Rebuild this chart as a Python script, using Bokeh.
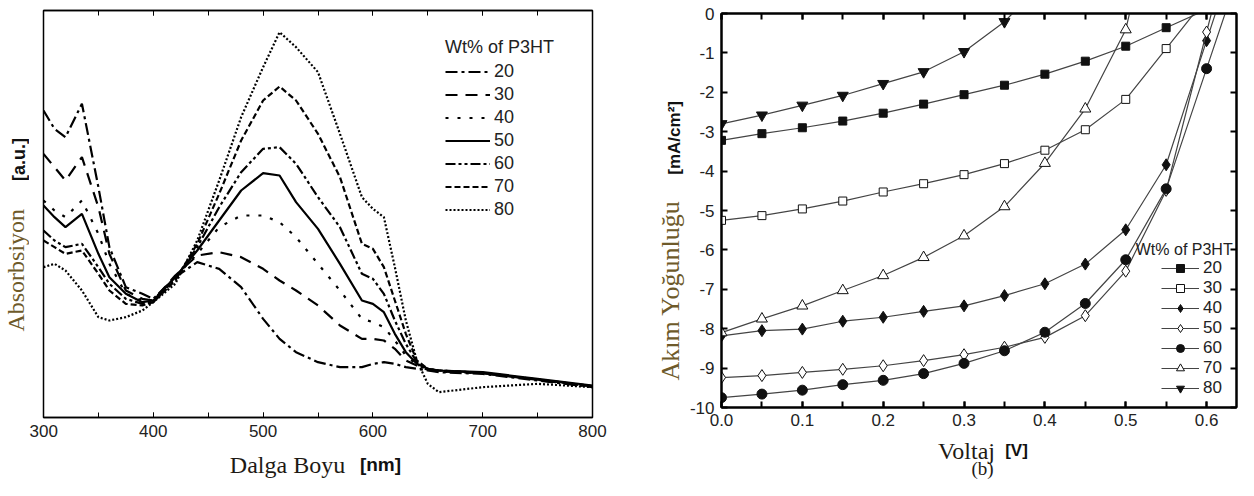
import math
from bokeh.plotting import figure
from bokeh.layouts import row, column
from bokeh.models import (Label, Legend, LegendItem, LinearAxis, SingleIntervalTicker,
                          PrintfTickFormatter, Range1d)
from bokeh.embed import file_html
from bokeh.resources import INLINE

# ---------------- Panel (a): absorption spectra ----------------
wavelength = [300, 310, 320, 335, 350, 360, 375, 390, 400, 420, 440, 460, 480, 500, 515, 530,
              550, 570, 590, 600, 610, 620, 630, 640, 650, 660, 700, 750, 800]
abs_20 = [0.921, 0.866, 0.841, 0.941, 0.691, 0.511, 0.391, 0.371, 0.356, 0.421, 0.466, 0.446,
          0.391, 0.296, 0.236, 0.196, 0.166, 0.151, 0.151, 0.161, 0.166, 0.161, 0.151, 0.146,
          0.141, 0.136, 0.131, 0.111, 0.091]
abs_30 = [0.791, 0.751, 0.711, 0.781, 0.631, 0.491, 0.381, 0.356, 0.351, 0.426, 0.486, 0.496,
          0.481, 0.446, 0.411, 0.381, 0.336, 0.276, 0.236, 0.236, 0.231, 0.206, 0.171, 0.156,
          0.143, 0.138, 0.133, 0.113, 0.093]
abs_40 = [0.651, 0.621, 0.601, 0.651, 0.551, 0.461, 0.371, 0.351, 0.351, 0.421, 0.491, 0.571,
          0.606, 0.606, 0.586, 0.541, 0.461, 0.381, 0.296, 0.286, 0.271, 0.231, 0.186, 0.158,
          0.143, 0.138, 0.133, 0.113, 0.093]
abs_50 = [0.636, 0.601, 0.571, 0.611, 0.491, 0.421, 0.371, 0.346, 0.351, 0.421, 0.501, 0.591,
          0.681, 0.733, 0.726, 0.646, 0.566, 0.461, 0.351, 0.341, 0.316, 0.251, 0.196, 0.161,
          0.146, 0.141, 0.136, 0.116, 0.096]
abs_60 = [0.561, 0.531, 0.511, 0.521, 0.451, 0.401, 0.356, 0.341, 0.346, 0.416, 0.511, 0.631,
          0.736, 0.806, 0.811, 0.761, 0.661, 0.571, 0.431, 0.416, 0.371, 0.291, 0.221, 0.166,
          0.146, 0.141, 0.134, 0.114, 0.094]
abs_70 = [0.531, 0.511, 0.491, 0.501, 0.431, 0.381, 0.341, 0.336, 0.346, 0.411, 0.521, 0.671,
          0.831, 0.951, 0.993, 0.951, 0.851, 0.721, 0.521, 0.506, 0.451, 0.351, 0.251, 0.171,
          0.146, 0.141, 0.134, 0.114, 0.094]
abs_80 = [0.451, 0.461, 0.441, 0.381, 0.301, 0.291, 0.301, 0.321, 0.346, 0.401, 0.531, 0.711,
          0.901, 1.051, 1.156, 1.111, 1.036, 0.851, 0.661, 0.626, 0.601, 0.451, 0.291, 0.171,
          0.101, 0.076, 0.091, 0.101, 0.091]
abs_labels = ["20", "30", "40", "50", "60", "70", "80"]
abs_series = [abs_20, abs_30, abs_40, abs_50, abs_60, abs_70, abs_80]
abs_dashes = ["12 4 3 4", "12 8", "3 9", "solid", "10 3 3 3 3 3", "6 3", "2 2"]

# ---------------- Panel (b): J-V curves ----------------
v_20 = [0.00, 0.05, 0.10, 0.15, 0.20, 0.25, 0.30, 0.35, 0.40, 0.45, 0.50, 0.55, 0.60]
j_20 = [-3.22, -3.05, -2.90, -2.73, -2.53, -2.30, -2.06, -1.82, -1.54, -1.21, -0.83, -0.36, 0.10]
v_30 = [0.00, 0.05, 0.10, 0.15, 0.20, 0.25, 0.30, 0.35, 0.40, 0.45, 0.50, 0.55, 0.60]
j_30 = [-5.25, -5.13, -4.96, -4.76, -4.53, -4.32, -4.09, -3.81, -3.47, -2.95, -2.18, -0.89, 0.40]
v_40 = [0.00, 0.05, 0.10, 0.15, 0.20, 0.25, 0.30, 0.35, 0.40, 0.45, 0.50, 0.55, 0.60, 0.65]
j_40 = [-8.18, -8.05, -8.01, -7.81, -7.71, -7.56, -7.42, -7.16, -6.86, -6.36, -5.49, -3.84, -0.69, 2.46]
v_50 = [0.00, 0.05, 0.10, 0.15, 0.20, 0.25, 0.30, 0.35, 0.40, 0.45, 0.50, 0.55, 0.60, 0.65]
j_50 = [-9.24, -9.19, -9.11, -9.03, -8.94, -8.81, -8.66, -8.47, -8.22, -7.67, -6.54, -4.49, -0.47, 3.50]
v_60 = [0.00, 0.05, 0.10, 0.15, 0.20, 0.25, 0.30, 0.35, 0.40, 0.45, 0.50, 0.55, 0.60, 0.65]
j_60 = [-9.75, -9.66, -9.56, -9.42, -9.31, -9.14, -8.88, -8.56, -8.09, -7.36, -6.25, -4.45, -1.40, 1.65]
v_70 = [0.00, 0.05, 0.10, 0.15, 0.20, 0.25, 0.30, 0.35, 0.40, 0.45, 0.50, 0.55]
j_70 = [-8.10, -7.75, -7.42, -7.03, -6.65, -6.19, -5.64, -4.90, -3.80, -2.42, -0.41, 4.00]
v_80 = [0.00, 0.05, 0.10, 0.15, 0.20, 0.25, 0.30, 0.35, 0.40]
j_80 = [-2.80, -2.58, -2.33, -2.08, -1.78, -1.48, -0.97, -0.21, 0.85]
jv_labels = ["20", "30", "40", "50", "60", "70", "80"]
jv_series = [(v_20, j_20), (v_30, j_30), (v_40, j_40), (v_50, j_50), (v_60, j_60), (v_70, j_70), (v_80, j_80)]
jv_markers = ["square", "square", "diamond", "diamond", "circle", "triangle", "inverted_triangle"]
jv_filled = [True, False, True, False, True, False, True]
jv_sizes = [8, 8, 12, 12, 10, 11, 11]

SANS = "Liberation Sans"
SERIF = "Liberation Serif"
TITLE_BROWN = "#6e5a2a"
DARK = "#1e1a14"


def text_fig(w, h):
    f = figure(width=w, height=h, x_range=Range1d(0, w), y_range=Range1d(0, h),
               x_axis_type=None, y_axis_type=None, output_backend="svg",
               toolbar_location=None, min_border=0)
    f.grid.visible = False
    f.outline_line_color = None
    return f


def hidden_axis(interval, minor):
    return LinearAxis(ticker=SingleIntervalTicker(interval=interval, num_minor_ticks=minor),
                      major_label_text_font_size="0px", major_label_text_color=None,
                      major_label_standoff=0, major_tick_in=6, major_tick_out=0,
                      minor_tick_in=6, minor_tick_out=0)


# ================= figure (a) =================
p1 = figure(width=591, height=445, x_range=Range1d(300, 800), y_range=Range1d(0, 1.221),
            output_backend="svg", toolbar_location=None,
            min_border_left=14, min_border_right=28, min_border_top=10, min_border_bottom=28)
p1.grid.visible = False
p1.outline_line_color = "black"
p1.outline_line_width = 1.5
p1.yaxis.visible = False
p1.xaxis.ticker = SingleIntervalTicker(interval=100, num_minor_ticks=2)
ax = p1.xaxis[0]
ax.major_tick_in = 5
ax.major_tick_out = 0
ax.minor_tick_in = 5
ax.minor_tick_out = 0
ax.major_label_standoff = 7
ax.major_label_text_font = SANS
ax.major_label_text_font_size = "17px"
ax.major_label_text_color = "#222222"
ax.axis_line_width = 1.5
top1 = hidden_axis(100, 2)
top1.major_tick_in = 5
top1.minor_tick_in = 5
top1.axis_line_width = 1.5
p1.add_layout(top1, "above")

items1 = []
for lab, ys, dash in zip(abs_labels, abs_series, abs_dashes):
    r = p1.line(wavelength, ys, line_color="black", line_width=2.2, line_dash=dash)
    items1.append(LegendItem(label=lab, renderers=[r]))
leg1 = Legend(items=items1, location=(402, 196), title="Wt% of P3HT",
              border_line_color=None, background_fill_alpha=0, padding=0, margin=0, spacing=0,
              glyph_width=45, glyph_height=23, label_height=23, label_standoff=4,
              label_text_font=SANS, label_text_font_size="18px", label_text_color="#222222",
              title_text_font=SANS, title_text_font_size="18px", title_text_font_style="normal",
              title_text_color="#222222", title_standoff=2)
p1.add_layout(leg1)

# vertical title of panel (a)
tA = text_fig(29, 445)
tA.add_layout(Label(x=15, y=161, text="Absorbsiyon", angle=math.pi / 2,
                    text_align="center", text_baseline="middle", text_font=SERIF,
                    text_font_size="24px", text_color=TITLE_BROWN))
tA.add_layout(Label(x=18, y=282, text="[a.u.]", angle=math.pi / 2,
                    text_align="center", text_baseline="middle", text_font=SANS,
                    text_font_style="bold", text_font_size="18px", text_color="#111111"))

# horizontal title of panel (a)
tC = text_fig(620, 35)
tC.add_layout(Label(x=287, y=16, text="Dalga Boyu", text_align="center",
                    text_baseline="middle", text_font=SERIF, text_font_size="24px",
                    text_color=DARK))
tC.add_layout(Label(x=380, y=16, text="[nm]", text_align="center",
                    text_baseline="middle", text_font=SANS, text_font_style="bold",
                    text_font_size="19px", text_color="#111111"))

# ================= figure (b) =================
p2 = figure(width=552, height=434, x_range=Range1d(0, 0.637), y_range=Range1d(-10, 0),
            output_backend="svg", toolbar_location=None,
            min_border_left=34, min_border_right=2, min_border_top=13, min_border_bottom=27)
p2.grid.visible = False
p2.outline_line_color = "black"
p2.outline_line_width = 2
p2.xaxis.ticker = SingleIntervalTicker(interval=0.1, num_minor_ticks=2)
p2.xaxis.formatter = PrintfTickFormatter(format="%.1f")
p2.yaxis.ticker = SingleIntervalTicker(interval=1, num_minor_ticks=0)
p2.yaxis.formatter = PrintfTickFormatter(format="%d")
for ax in [p2.xaxis[0], p2.yaxis[0]]:
    ax.major_tick_in = 6
    ax.major_tick_out = 0
    ax.minor_tick_in = 6
    ax.minor_tick_out = 0
    ax.major_tick_line_width = 2
    ax.minor_tick_line_width = 2
    ax.major_label_text_font = SANS
    ax.major_label_text_font_size = "17px"
    ax.major_label_text_color = "#222222"
    ax.axis_line_width = 2
p2.xaxis.major_label_standoff = 6
p2.yaxis.major_label_standoff = 7
top2 = hidden_axis(0.1, 2)
top2.major_tick_line_width = 2
top2.minor_tick_line_width = 2
top2.axis_line_width = 2
p2.add_layout(top2, "above")
right2 = hidden_axis(1, 0)
right2.major_tick_line_width = 2
right2.axis_line_width = 2
p2.add_layout(right2, "right")

items2 = []
for lab, (vx, jy), mk, filled, sz in zip(jv_labels, jv_series, jv_markers, jv_filled, jv_sizes):
    rl = p2.line(vx, jy, line_color="#444444", line_width=1.2)
    rs = p2.scatter(vx, jy, marker=mk, size=sz, line_color="#111111", line_width=1,
                    fill_color="#111111" if filled else "white")
    items2.append(LegendItem(label=lab, renderers=[rl, rs]))
leg2 = Legend(items=items2, location=(440, 9),
              border_line_color=None, background_fill_alpha=0, padding=0, margin=0, spacing=0,
              glyph_width=38, glyph_height=20, label_height=20, label_standoff=4,
              label_text_font=SANS, label_text_font_size="17px", label_text_color="#222222")
p2.add_layout(leg2)
p2.add_layout(Label(x=0.5124, y=-5.99, text="Wt% of P3HT", text_align="left",
                    text_baseline="middle", text_font=SANS, text_font_size="16px",
                    text_color="#222222"))

# vertical title of panel (b)
tB = text_fig(66, 434)
tB.add_layout(Label(x=50, y=129, text="Akım Yoğunluğu", angle=math.pi / 2,
                    text_align="center", text_baseline="middle", text_font=SERIF,
                    text_font_size="26px", text_color=TITLE_BROWN))
tB.add_layout(Label(x=54, y=297, text="[mA/cm²]", angle=math.pi / 2,
                    text_align="center", text_baseline="middle", text_font=SANS,
                    text_font_style="bold", text_font_size="17px", text_color="#111111"))

# horizontal title of panel (b)
tD = text_fig(618, 46)
tD.add_layout(Label(x=346, y=30, text="Voltaj", text_align="center",
                    text_baseline="middle", text_font=SERIF, text_font_size="24px",
                    text_color=DARK))
tD.add_layout(Label(x=396, y=30, text="[V]", text_align="center",
                    text_baseline="middle", text_font=SANS, text_font_style="bold",
                    text_font_size="17px", text_color="#111111"))
tD.add_layout(Label(x=362, y=12, text="(b)", text_align="center",
                    text_baseline="middle", text_font=SERIF, text_font_size="19px",
                    text_color=DARK))

left_col = column(row(tA, p1), tC)
right_col = column(row(tB, p2), tD)
layout = row(left_col, right_col)
open("out.html", "w").write(file_html(layout, INLINE))
